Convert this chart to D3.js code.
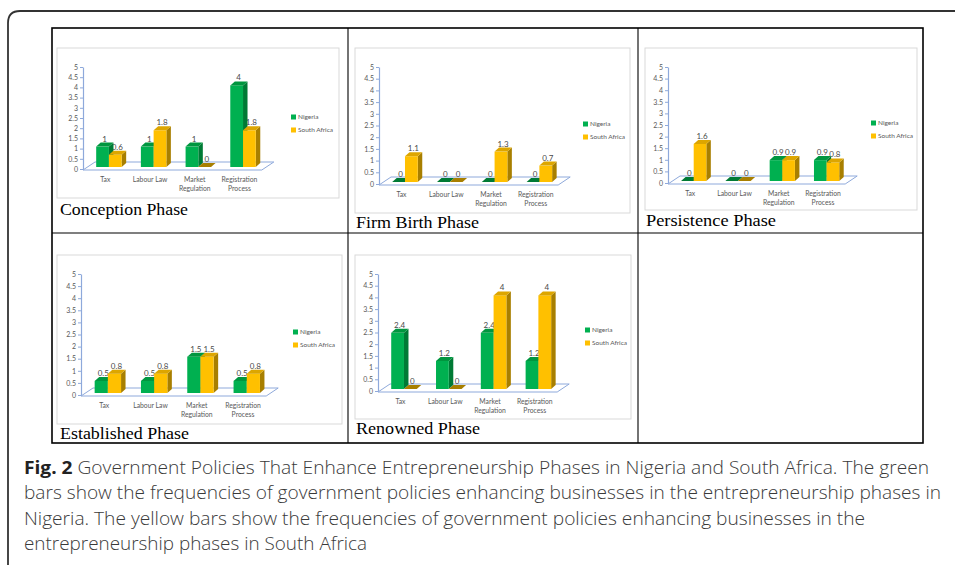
<!DOCTYPE html>
<html><head><meta charset="utf-8">
<script src="https://cdn.jsdelivr.net/npm/d3@7"></script>
<style>body{margin:0;background:#fff}svg{display:block}</style>
</head><body>
<svg id="c" width="955" height="565"></svg>
<script>
// ---------- DATA ----------
const categories = ["Tax", "Labour Law", "Market Regulation", "Registration Process"];
const categoryLines = [["Tax"], ["Labour Law"], ["Market", "Regulation"], ["Registration", "Process"]];
const seriesNames = ["Nigeria", "South Africa"];
const phaseNames = ["Conception Phase", "Firm Birth Phase", "Persistence Phase", "Established Phase", "Renowned Phase"];
const conceptionNigeria = [1, 1, 1, 4];
const conceptionSouthAfrica = [0.6, 1.8, 0, 1.8];
const firmBirthNigeria = [0, 0, 0, 0];
const firmBirthSouthAfrica = [1.1, 0, 1.3, 0.7];
const persistenceNigeria = [0, 0, 0.9, 0.9];
const persistenceSouthAfrica = [1.6, 0, 0.9, 0.8];
const establishedNigeria = [0.5, 0.5, 1.5, 0.5];
const establishedSouthAfrica = [0.8, 0.8, 1.5, 0.8];
const renownedNigeria = [2.4, 1.2, 2.4, 1.2];
const renownedSouthAfrica = [0, 0, 4, 4];
const yTicks = [0, 0.5, 1, 1.5, 2, 2.5, 3, 3.5, 4, 4.5, 5];
const captionLines = [
  "Government Policies That Enhance Entrepreneurship Phases in Nigeria and South Africa. The green",
  "bars show the frequencies of government policies enhancing businesses in the entrepreneurship phases in",
  "Nigeria. The yellow bars show the frequencies of government policies enhancing businesses in the",
  "entrepreneurship phases in South Africa"
];
const figLabel = "Fig. 2";

const phaseSeries = [
  [conceptionNigeria, conceptionSouthAfrica],
  [firmBirthNigeria, firmBirthSouthAfrica],
  [persistenceNigeria, persistenceSouthAfrica],
  [establishedNigeria, establishedSouthAfrica],
  [renownedNigeria, renownedSouthAfrica]
];

// ---------- LAYOUT / STYLE ----------
const layout = [
  {box:[57,48,339,198],  ax:83,  y0:169, y5:67,  step:44.7, leg:[291,117], cap:[60,215,128]},
  {box:[355,48,630,213], ax:379, y0:184, y5:67,  step:44.8, leg:[583,124], cap:[356,228,123]},
  {box:[645,48,917,210], ax:668, y0:183, y5:67,  step:44.3, leg:[871,123], cap:[646,226,130]},
  {box:[57,255,342,424], ax:81,  y0:395, y5:274, step:46.3, leg:[293,332], cap:[60,439,129]},
  {box:[355,255,631,419],ax:378, y0:391, y5:274, step:44.8, leg:[585,330], cap:[356,434,124]}
];
const colors = {
  front: ["#00B050", "#FFC000"],
  top:   ["#00963F", "#DDA600"],
  side:  ["#007A35", "#A87F00"]
};
const axisColor = "#8EA9DB";
const textGray = "#595959";
const smallFont = "Lato, 'Liberation Sans', sans-serif";

const svg = d3.select("#c");

// outer rounded frame
svg.append("path")
  .attr("d", "M8,566 L8,23 Q8,11 20,11 L956,11")
  .attr("fill", "none").attr("stroke", "#333").attr("stroke-width", 1.8);

// table grid
const colX = [52, 348, 638, 923];
const rowY = [28, 233, 443];
const grid = svg.append("g").attr("stroke", "#000").attr("fill", "none");
grid.append("rect").attr("x", colX[0]).attr("y", rowY[0])
  .attr("width", colX[3]-colX[0]).attr("height", rowY[2]-rowY[0]).attr("stroke-width", 1.6);
colX.slice(1,3).forEach(x => grid.append("line").attr("x1", x).attr("x2", x).attr("y1", rowY[0]).attr("y2", rowY[2]).attr("stroke-width", 1.1));
grid.append("line").attr("x1", colX[0]).attr("x2", colX[3]).attr("y1", rowY[1]).attr("y2", rowY[1]).attr("stroke-width", 1.1);

// ---------- PANELS ----------
phaseNames.forEach((phase, pi) => {
  const L = layout[pi];
  const data = phaseSeries[pi];
  const g = svg.append("g");
  const [bx0, by0, bx1, by1] = L.box;
  g.append("rect").attr("x", bx0).attr("y", by0).attr("width", bx1-bx0).attr("height", by1-by0)
    .attr("fill", "#fff").attr("stroke", "#D9D9D9").attr("stroke-width", 1);

  const y = d3.scaleLinear().domain([0, 5]).range([L.y0, L.y5]);
  const x = d3.scaleBand().domain(categories).range([L.ax, L.ax + 4*L.step]);
  const W = 4*L.step;
  const fdx = 12, fdy = -8;   // floor depth
  const bdx = 4.5, bdy = -4;  // bar depth
  const shiftX = 0.08*L.step, shiftY = -2;
  const bw = 0.285*L.step;

  // floor
  g.append("path")
    .attr("d", `M${L.ax},${L.y0+1} L${L.ax+W},${L.y0+1} L${L.ax+W+fdx},${L.y0+1+fdy} L${L.ax+fdx},${L.y0+1+fdy} Z`)
    .attr("fill", "none").attr("stroke", axisColor).attr("stroke-width", 1);

  // axis
  const axis = g.append("g").attr("transform", `translate(${L.ax},0)`)
    .call(d3.axisLeft(y).tickValues(yTicks).tickSize(3).tickSizeOuter(0).tickFormat(d => String(d)));
  axis.select(".domain").attr("stroke", axisColor).attr("stroke-width", 1.2);
  axis.selectAll(".tick line").attr("stroke", axisColor);
  axis.selectAll(".tick text").attr("fill", textGray).attr("font-size", 7)
    .attr("font-family", smallFont).attr("x", -5);

  // category labels
  categories.forEach((c, ci) => {
    const t = g.append("text").attr("text-anchor", "middle").attr("fill", textGray)
      .attr("font-size", 6.8).attr("font-family", smallFont);
    categoryLines[ci].forEach((ln, li) => {
      t.append("tspan").attr("x", x(c) + x.bandwidth()/2).attr("y", L.y0 + 12.5 + li*9).text(ln);
    });
  });

  // bar geometry
  const bars = [];
  categories.forEach((c, ci) => {
    const center = x(c) + x.bandwidth()/2 + shiftX;
    data.forEach((vals, si) => {
      const v = vals[ci];
      const x0 = si === 0 ? center - bw : center;
      const x1 = x0 + bw;
      const base = y(0) + shiftY;
      const top = y(v) + shiftY;
      bars.push({v, si, x0, x1, base, top});
    });
  });

  // value labels (drawn first so bars can hide them as in the original)
  bars.forEach(b => {
    g.append("text").attr("x", (b.x0 + b.x1)/2 + 2).attr("y", b.top - 5)
      .attr("text-anchor", "middle").attr("fill", "#4a4a4a")
      .attr("font-size", 8).attr("font-family", smallFont).text(String(b.v));
  });

  // bars
  bars.forEach(b => {
    const {x0, x1, base, top, si} = b;
    g.append("path")
      .attr("d", `M${x1},${top} L${x1+bdx},${top+bdy} L${x1+bdx},${base+bdy} L${x1},${base} Z`)
      .attr("fill", colors.side[si]);
    if (base - top > 0) {
      g.append("rect").attr("x", x0).attr("y", top).attr("width", x1-x0).attr("height", base-top)
        .attr("fill", colors.front[si]);
    }
    g.append("path")
      .attr("d", `M${x0},${top} L${x0+bdx},${top+bdy} L${x1+bdx},${top+bdy} L${x1},${top} Z`)
      .attr("fill", b.v === 0 ? colors.side[si] : colors.top[si]);
  });

  // legend
  seriesNames.forEach((s, si) => {
    const ly = L.leg[1] + si*13;
    g.append("rect").attr("x", L.leg[0]).attr("y", ly-2.5).attr("width", 5).attr("height", 5)
      .attr("fill", colors.front[si]);
    g.append("text").attr("x", L.leg[0]+7).attr("y", ly+2.3).attr("fill", textGray)
      .attr("font-size", 6.5).attr("font-family", smallFont).text(s);
  });

  // caption
  g.append("text").attr("x", L.cap[0]).attr("y", L.cap[1])
    .attr("font-family", "'Liberation Serif', 'DejaVu Serif', serif").attr("font-size", 17)
    .attr("fill", "#000").attr("textLength", L.cap[2]).attr("lengthAdjust", "spacingAndGlyphs")
    .text(phase);
});

// ---------- FIGURE CAPTION ----------
const capEnds = [929, 941, 865, 367];
captionLines.forEach((ln, i) => {
  const t = svg.append("text").attr("x", 24).attr("y", 474 + i*25.3)
    .attr("font-family", "'Open Sans', sans-serif").attr("font-size", 17.5).attr("font-weight", 300)
    .attr("fill", "#3a3a3a").attr("textLength", capEnds[i] - 24).attr("lengthAdjust", "spacingAndGlyphs");
  if (i === 0) {
    t.append("tspan").attr("font-weight", "bold").attr("fill", "#222").text(figLabel);
    t.append("tspan").text(" " + ln);
  } else {
    t.text(ln);
  }
});
</script>
</body></html>
